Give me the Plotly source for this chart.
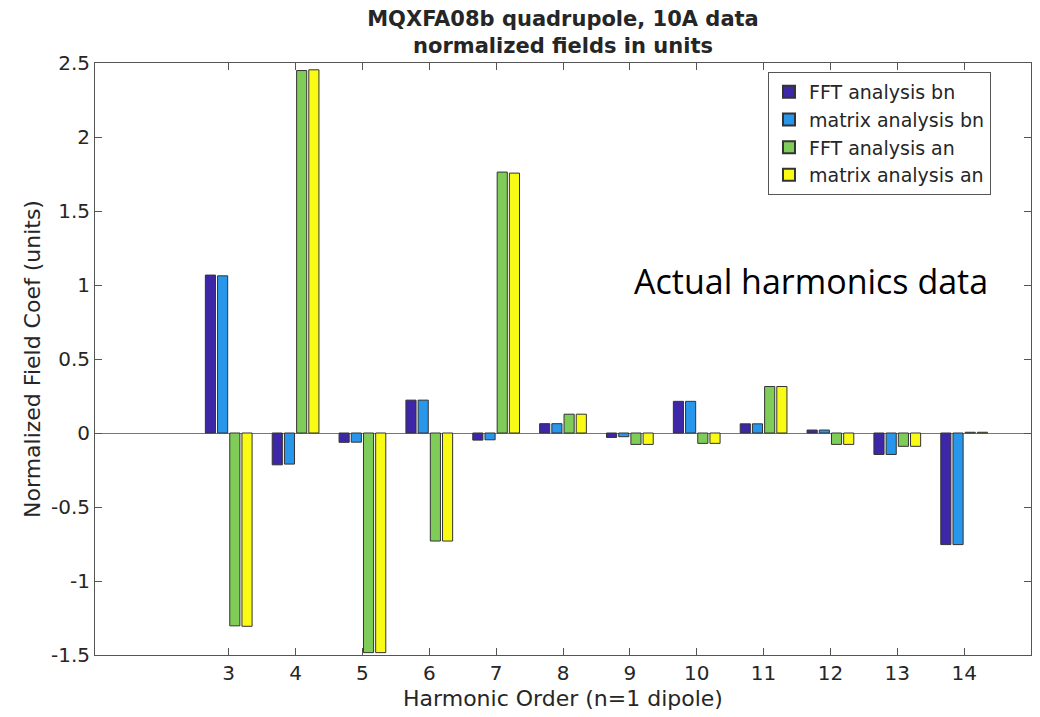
import plotly.graph_objects as go

harmonics = [3, 4, 5, 6, 7, 8, 9, 10, 11, 12, 13, 14]
fft_bn = [1.067, -0.215, -0.063, 0.222, -0.048, 0.063, -0.030, 0.214, 0.062, 0.020, -0.145, -0.754]
matrix_bn = [1.062, -0.210, -0.062, 0.222, -0.046, 0.063, -0.025, 0.214, 0.062, 0.020, -0.145, -0.754]
fft_an = [-1.303, 2.449, -1.484, -0.730, 1.763, 0.127, -0.077, -0.070, 0.314, -0.077, -0.090, 0.005]
matrix_an = [-1.306, 2.454, -1.484, -0.730, 1.756, 0.127, -0.077, -0.070, 0.314, -0.077, -0.090, 0.005]
y_ticks = [-1.5, -1, -0.5, 0, 0.5, 1, 1.5, 2, 2.5]
y_tick_text = ["-1.5", "-1", "-0.5", "0", "0.5", "1", "1.5", "2", "2.5"]

series = [
    ("FFT analysis bn", fft_bn, "#3E26A8"),
    ("matrix analysis bn", matrix_bn, "#2796EB"),
    ("FFT analysis an", fft_an, "#80CC59"),
    ("matrix analysis an", matrix_an, "#F9FB15"),
]

fig = go.Figure()
for name, vals, col in series:
    fig.add_trace(go.Bar(
        x=harmonics, y=vals, name=name,
        marker=dict(color=col, line=dict(color="#333333", width=1)),
    ))

txt = "#262626"
fig.update_layout(
    width=1032, height=709,
    margin=dict(l=87, r=9, t=55, b=62, autoexpand=False),
    paper_bgcolor="white", plot_bgcolor="white",
    barmode="group", bargap=0.27, bargroupgap=0.17,
    title=dict(
        text="<b>MQXFA08b quadrupole, 10A data<br>normalized fields in units</b>",
        x=0.5, xref="paper", xanchor="center",
        y=1 - 17.5 / 709, yref="container", yanchor="middle",
        font=dict(family="DejaVu Sans", size=21, color=txt),
    ),
    showlegend=True,
    legend=dict(
        x=0.719, y=0.985, xanchor="left", yanchor="top",
        bgcolor="white", bordercolor="#555555", borderwidth=1,
        font=dict(family="DejaVu Sans", size=19, color=txt),
        tracegroupgap=0, itemsizing="constant",
    ),
    xaxis=dict(
        range=[1, 15], tickvals=harmonics, ticktext=[str(h) for h in harmonics],
        ticks="inside", ticklen=7, tickcolor="#555555",
        showline=True, linecolor="#555555", linewidth=1, mirror="ticks",
        showgrid=False, zeroline=False, automargin=False,
        tickfont=dict(family="DejaVu Sans", size=20, color=txt),
        title=dict(text="Harmonic Order (n=1 dipole)", standoff=6,
                   font=dict(family="DejaVu Sans", size=22, color=txt)),
    ),
    yaxis=dict(
        range=[-1.5, 2.5], tickvals=y_ticks, ticktext=y_tick_text,
        ticks="inside", ticklen=7, tickcolor="#555555",
        showline=True, linecolor="#555555", linewidth=1, mirror="ticks",
        showgrid=False, zeroline=True, zerolinecolor="#777777", zerolinewidth=1,
        automargin=False,
        tickfont=dict(family="DejaVu Sans", size=20, color=txt),
        title=dict(text="Normalized Field Coef (units)", standoff=4,
                   font=dict(family="DejaVu Sans", size=22, color=txt)),
    ),
    annotations=[dict(
        text="Actual harmonics data", xref="paper", yref="paper",
        x=0.765, y=0.632, xanchor="center", yanchor="middle", showarrow=False,
        font=dict(family="Open Sans", size=34, color="black"),
    )],
)

fig.write_html("out.html")
